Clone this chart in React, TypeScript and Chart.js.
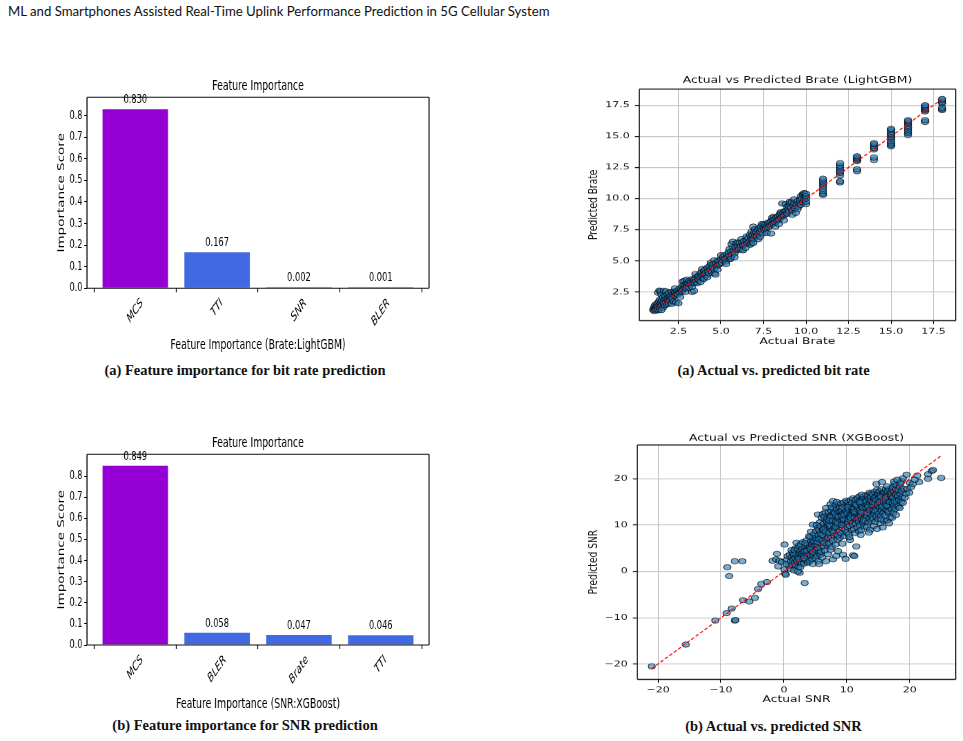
import React, { useEffect, useRef } from 'react';
import { Chart, registerables } from 'chart.js';

Chart.register(...registerables);

const SANS = '"DejaVu Sans", "Liberation Sans", sans-serif';

// ---- Feature importance: bit-rate model (LightGBM) ----
const brateFeatures = ['MCS', 'TTI', 'SNR', 'BLER'];
const brateImportance = [0.830, 0.167, 0.002, 0.001];

// ---- Feature importance: SNR model (XGBoost) ----
const snrFeatures = ['MCS', 'BLER', 'Brate', 'TTI'];
const snrImportance = [0.849, 0.058, 0.047, 0.046];

const importanceTicks = [0, 0.1, 0.2, 0.3, 0.4, 0.5, 0.6, 0.7, 0.8];
const importanceTickLabels = ['0.0', '0.1', '0.2', '0.3', '0.4', '0.5', '0.6', '0.7', '0.8'];

const brateTicks = [2.5, 5, 7.5, 10, 12.5, 15, 17.5];
const brateTickLabels = ['2.5', '5.0', '7.5', '10.0', '12.5', '15.0', '17.5'];
const snrTicks = [-20, -10, 0, 10, 20];
const snrTickLabels = ['\u221220', '\u221210', '0', '10', '20'];

// ends of the y = x reference line (min / max of the actual values)
const brateIdeal = [1, 18];
const snrIdeal = [-21, 25];

type Pt = [number, number];

// actual vs predicted bit rate (LightGBM), [actual, predicted]
const bratePoints: Pt[] = [
  [1.02, 1.05], [1.05, 1.2], [1.08, 0.98], [1.1, 1.35], [1.12, 1.1], [1.15, 1.5], [1.18, 1.25], [1.2, 1.02],
  [1.22, 1.4], [1.25, 1.15], [1.28, 1.6], [1.3, 1.3], [1.33, 1.05], [1.35, 1.75], [1.38, 1.45], [1.4, 1.2],
  [1.3, 2.45], [1.38, 2.62], [1.45, 2.55], [1.5, 2.3], [1.42, 1.9], [1.45, 1.6], [1.48, 1.35], [1.52, 1.8],
  [1.55, 1.5], [1.58, 2.05], [1.6, 1.25], [1.62, 1.65], [1.65, 2.6], [1.68, 1.9], [1.7, 1.45], [1.72, 2.2],
  [1.75, 1.7], [1.78, 2.55], [1.8, 1.95], [1.82, 1.5], [1.85, 2.3], [1.88, 1.8], [1.9, 2.05], [1.92, 1.6],
  [1.95, 2.45], [1.98, 2.1], [2.0, 1.85], [1.5, 1.05],
  [2.05, 2.2], [2.08, 1.95], [2.1, 2.5], [2.1, 1.55], [2.15, 2.05], [2.18, 2.3], [2.2, 1.75], [2.25, 2.55],
  [2.28, 2.2], [2.3, 2.45], [2.3, 2.8], [2.35, 1.65], [2.38, 2.35], [2.42, 2.6], [2.45, 2.3], [2.5, 1.6],
  [2.52, 2.5], [2.55, 2.75], [2.6, 2.45], [2.6, 2.1], [2.65, 2.7], [2.7, 2.55], [2.72, 2.95], [2.75, 3.35],
  [2.78, 2.7], [2.8, 3.1], [2.85, 2.85], [2.85, 3.4], [2.9, 3.05], [2.9, 2.5], [2.95, 2.8], [2.98, 3.25],
  [3.0, 3.5], [3.02, 3.0], [3.08, 3.2], [3.1, 2.85], [3.15, 3.4], [3.2, 3.1], [3.25, 3.3], [3.3, 2.5],
  [3.3, 2.9], [3.32, 3.55], [3.35, 3.2], [3.4, 3.45], [3.42, 2.6], [3.45, 3.25], [3.5, 3.6], [3.5, 3.95],
  [3.55, 3.35], [3.6, 3.75], [3.6, 3.2], [3.65, 3.5], [3.7, 3.8], [3.72, 3.45], [3.78, 3.95], [3.8, 3.3],
  [3.82, 3.65], [3.85, 4.1], [3.9, 3.85], [3.9, 4.35], [3.95, 3.6], [4.0, 4.2], [4.0, 3.55], [4.02, 3.9],
  [4.08, 4.3], [4.1, 4.05], [4.15, 3.85], [4.2, 4.45], [4.2, 3.7], [4.25, 4.15], [4.3, 4.0], [4.32, 4.55],
  [4.38, 4.3], [4.4, 4.85], [4.42, 4.7], [4.45, 4.15], [4.5, 4.5], [4.55, 4.75], [4.6, 4.35], [4.6, 5.05],
  [4.62, 4.0], [4.68, 3.9], [4.7, 4.8], [4.75, 4.55], [4.8, 5.0], [4.8, 4.3], [4.85, 4.7], [4.9, 4.95],
  [4.95, 4.75], [5.0, 5.15], [5.0, 5.45],
  [5.05, 4.85], [5.1, 5.3], [5.15, 5.05], [5.2, 5.45], [5.25, 5.2], [5.3, 4.95], [5.3, 4.75], [5.35, 5.5],
  [5.4, 5.3], [5.45, 5.7], [5.5, 5.4], [5.5, 5.95], [5.55, 5.15], [5.6, 5.75], [5.6, 5.25], [5.62, 6.35],
  [5.65, 5.5], [5.7, 6.1], [5.7, 6.55], [5.75, 5.85], [5.8, 5.6], [5.8, 5.3], [5.85, 6.05], [5.9, 6.4],
  [5.95, 5.85], [6.0, 6.2], [6.0, 6.5], [6.05, 5.95], [6.1, 6.45], [6.15, 6.15], [6.2, 5.9], [6.2, 6.75],
  [6.25, 6.5], [6.3, 6.25], [6.3, 5.85], [6.35, 6.6], [6.4, 6.3], [6.45, 6.05], [6.5, 6.65], [6.5, 6.95],
  [6.55, 6.4], [6.6, 6.85], [6.65, 6.5], [6.7, 7.1], [6.72, 6.3], [6.78, 6.9], [6.8, 6.7], [6.8, 7.35],
  [6.8, 6.4], [6.85, 7.05], [6.9, 6.75], [6.9, 7.75], [6.9, 6.45], [6.95, 7.3], [7.0, 7.0], [7.0, 7.55],
  [7.05, 7.3], [7.1, 6.95], [7.15, 7.5], [7.2, 7.2], [7.2, 6.75], [7.25, 7.6], [7.3, 7.35], [7.3, 6.95],
  [7.35, 7.75], [7.4, 7.45], [7.4, 7.95], [7.45, 7.2], [7.5, 7.7], [7.5, 7.95], [7.55, 7.5], [7.6, 7.9],
  [7.65, 7.6], [7.7, 7.8], [7.7, 7.25], [7.75, 8.05], [7.8, 7.7], [7.85, 8.1], [7.9, 7.85], [7.95, 8.2],
  [7.95, 7.2], [8.0, 7.95], [8.0, 8.45], [8.05, 8.25], [8.1, 8.0], [8.1, 8.55], [8.15, 8.35], [8.2, 8.1],
  [8.2, 7.75], [8.25, 8.5], [8.3, 8.25], [8.35, 8.55], [8.4, 8.3], [8.4, 7.95], [8.45, 8.7], [8.5, 8.45],
  [8.5, 8.9], [8.55, 8.8], [8.6, 8.6], [8.6, 9.6], [8.65, 8.9], [8.7, 8.65], [8.7, 8.25], [8.75, 9.0],
  [8.8, 8.75], [8.8, 9.55], [8.85, 9.05], [8.9, 8.8], [8.9, 9.35], [8.95, 9.15],
  [9.0, 8.95], [9.0, 9.4], [9.05, 9.6], [9.05, 9.75], [9.1, 9.25], [9.15, 9.7], [9.2, 9.05], [9.2, 8.7],
  [9.25, 9.45], [9.3, 9.65], [9.3, 9.95], [9.35, 9.2], [9.4, 8.85], [9.45, 9.5], [9.5, 9.8], [9.5, 9.15],
  [9.55, 9.35], [9.6, 9.6], [9.65, 9.9], [9.7, 9.5], [9.7, 10.2], [9.75, 10.0], [9.8, 9.7], [9.8, 10.35],
  [9.85, 10.3], [9.9, 9.9], [9.9, 10.45], [9.95, 10.2],
  [10.0, 9.55], [10.0, 9.75], [10.0, 10.0], [10.0, 10.2], [10.0, 10.4],
  [11, 10.3], [11, 10.4], [11, 10.6], [11, 10.8], [11, 11.0], [11, 11.15], [11, 11.3], [11, 11.45], [11, 11.6],
  [12, 11.3], [12, 11.4], [12, 11.85], [12, 12.05], [12, 12.2], [12, 12.35], [12, 12.5], [12, 12.65], [12, 12.85],
  [13, 12.2], [13, 12.35], [13, 13.0], [13, 13.1], [13, 13.2], [13, 13.3], [13, 13.4],
  [14, 13.1], [14, 13.3], [14, 13.95], [14, 14.05], [14, 14.2], [14, 14.35], [14, 14.45],
  [15, 14.2], [15, 14.3], [15, 14.45], [15, 14.6], [15, 14.8], [15, 14.95], [15, 15.1], [15, 15.2], [15, 15.35],
  [15, 15.5], [15, 15.6],
  [16, 15.1], [16, 15.25], [16, 15.4], [16, 15.55], [16, 15.7], [16, 15.85], [16, 16.0], [16, 16.1], [16, 16.2],
  [16, 16.3],
  [17, 16.15], [17, 16.3], [17, 17.0], [17, 17.1], [17, 17.2], [17, 17.3], [17, 17.4], [17, 17.5],
  [18, 17.1], [18, 17.2], [18, 17.3], [18, 17.65], [18, 17.75], [18, 17.9], [18, 18.0],
];

// actual vs predicted SNR (XGBoost), [actual, predicted]
const snrPoints: Pt[] = [
  [-21, -20.5], [-15.6, -15.8], [-10.9, -10.6], [-9.1, -9.0], [-8.3, -8.0], [-7.8, -10.6], [-7.7, -10.5],
  [-9.0, 0.9], [-8.7, -1.0], [-7.8, 2.2], [-6.6, 2.2], [-6.5, -6.2], [-5.5, -6.5], [-4.6, -5.7], [-4.1, -3.8],
  [-3.6, -2.7], [-2.7, -2.3], [-1.8, 2.3], [-1.1, 3.8], [-1.25, 2.6], [-0.9, 1.1], [-0.7, 2.3], [-0.3, 2.0],
  [0.1, 0.4], [0.2, -0.5], [0.3, -0.7], [0.1, 5.8], [0.5, 2.5], [0.8, 1.2], [0.6, 3.3], [0.9, 3.6], [0.4, 1.6],
  [1.0, 0.6],
  [1.1, 2.2], [1.2, 3.0], [1.3, 1.4], [1.4, 4.1], [1.5, 2.6], [1.6, 0.2], [1.6, 3.4], [1.7, 1.8], [1.8, 5.0],
  [1.8, 2.9], [1.9, 4.2], [1.9, 1.3], [2.0, 3.6], [2.0, 6.2], [1.5, 3.9], [1.2, 4.6], [1.7, 4.6],
  [2.1, 2.3], [2.2, 4.8], [2.3, 3.1], [2.3, 1.0], [2.4, 5.5], [2.5, -0.3], [2.5, 3.8], [2.6, 2.0], [2.6, 4.4],
  [2.7, 5.9], [2.8, 3.3], [2.8, 1.6], [2.9, 4.9], [3.0, 2.7], [3.0, 6.3], [2.2, 0.0], [2.6, 0.9], [2.4, 2.7],
  [2.9, 3.9],
  [3.1, 4.2], [3.2, 1.7], [3.3, -2.5], [3.3, 3.5], [3.4, 5.4], [3.5, 2.4], [3.5, 4.6], [3.6, 6.7], [3.7, 3.1],
  [3.8, 5.8], [3.8, 1.9], [3.9, 4.0], [4.0, 7.6], [4.0, 2.8], [3.2, 2.9], [3.6, 3.9], [3.9, 5.0], [3.4, 6.1],
  [3.3, 4.4], [3.7, 4.5],
  [4.1, 2.2], [4.1, 5.3], [4.2, 3.6], [4.3, 6.5], [4.3, 8.6], [4.4, 4.4], [4.5, 2.6], [4.5, 5.9], [4.6, 1.6],
  [4.6, 10.1], [4.6, 7.3], [4.7, 3.4], [4.8, 4.9], [4.8, 8.0], [4.9, 6.3], [5.0, 2.9], [5.0, 3.9], [4.4, 5.2],
  [4.9, 5.5], [4.2, 7.4], [4.2, 4.8], [4.6, 4.2], [4.7, 6.6], [5.0, 7.2],
  [5.1, 8.7], [5.1, 4.6], [5.2, 6.9], [5.3, 3.3], [5.3, 5.6], [5.4, 12.3], [5.4, 9.4], [5.5, 7.8], [5.5, 2.2],
  [5.6, 1.6], [5.6, 4.2], [5.7, 6.2], [5.7, 10.6], [5.8, 8.3], [5.8, 3.6], [5.9, 5.1], [5.9, 7.1], [6.0, 9.6],
  [6.0, 11.6], [5.2, 10.0], [5.6, 9.0], [5.4, 5.0], [5.9, 4.3], [5.3, 6.3], [5.6, 7.0], [5.8, 9.8],
  [6.1, 6.6], [6.1, 3.0], [6.2, 8.9], [6.2, 12.4], [6.3, 5.4], [6.3, 10.3], [6.4, 7.6], [6.5, 11.2], [6.5, 4.5],
  [6.6, 9.5], [6.7, 2.2], [6.7, 13.7], [6.7, 6.9], [6.8, 8.2], [6.8, 10.8], [6.9, 12.0], [6.9, 5.8], [7.0, 7.3],
  [7.0, 9.1], [7.0, 3.7], [6.4, 11.8], [6.6, 12.8], [6.3, 9.1], [6.9, 11.4], [6.1, 7.9], [6.4, 6.2], [6.6, 8.6],
  [7.0, 10.0],
  [7.1, 10.4], [7.1, 12.8], [7.2, 6.1], [7.2, 8.4], [7.3, 11.5], [7.4, 14.5], [7.4, 4.7], [7.4, 9.6], [7.5, 7.2],
  [7.5, 13.1], [7.6, 10.9], [7.6, 5.3], [7.7, 8.9], [7.7, 12.2], [7.8, 15.2], [7.8, 2.6], [7.8, 6.6], [7.9, 10.0],
  [7.9, 13.7], [8.0, 7.8], [8.0, 11.6], [7.3, 9.9], [7.6, 13.8], [7.9, 8.4], [7.2, 11.0], [7.5, 11.9],
  [7.8, 11.0], [7.9, 12.7],
  [8.1, 9.4], [8.1, 12.6], [8.2, 5.8], [8.2, 14.3], [8.3, 3.3], [8.3, 10.8], [8.4, 8.0], [8.4, 13.4], [8.5, 11.7],
  [8.5, 6.9], [8.6, 4.4], [8.6, 9.9], [8.7, 12.9], [8.7, 14.6], [8.8, 8.6], [8.8, 11.2], [8.9, 7.3], [8.9, 13.8],
  [9.0, 10.4], [9.0, 12.2], [8.3, 12.0], [8.6, 7.8], [8.9, 9.6], [8.4, 15.0], [8.2, 9.7], [8.5, 10.4],
  [8.7, 11.8], [9.0, 13.0],
  [9.1, 8.2], [9.1, 14.7], [9.2, 11.0], [9.2, 13.2], [9.3, 9.3], [9.3, 6.0], [9.4, 3.6], [9.4, 12.5], [9.5, 14.9],
  [9.5, 10.6], [9.6, 7.6], [9.6, 13.6], [9.7, 11.7], [9.7, 9.0], [9.8, 2.7], [9.8, 14.2], [9.8, 12.9], [9.9, 10.1],
  [10.0, 8.4], [10.0, 11.4], [10.0, 13.9], [9.4, 11.6], [9.9, 15.3], [9.2, 10.0], [9.2, 12.0], [9.5, 11.2],
  [9.6, 12.3], [9.9, 13.2], [9.3, 13.8],
  [10.1, 9.6], [10.1, 12.6], [10.2, 15.0], [10.2, 10.7], [10.3, 8.0], [10.3, 13.4], [10.4, 11.8], [10.4, 14.4],
  [10.5, 6.8], [10.5, 9.8], [10.6, 12.3], [10.6, 15.4], [10.7, 10.9], [10.7, 13.9], [10.8, 8.9], [10.8, 14.8],
  [10.9, 11.5], [10.9, 12.9], [11.0, 3.5], [11.0, 10.2], [11.0, 15.8], [10.4, 7.4], [10.8, 12.1], [10.2, 13.9],
  [10.3, 11.2], [10.6, 11.6], [10.9, 13.6], [11.0, 13.0],
  [11.1, 13.5], [11.1, 9.1], [11.2, 3.3], [11.2, 11.6], [11.3, 14.6], [11.3, 12.5], [11.4, 10.3], [11.4, 15.5],
  [11.5, 5.4], [11.5, 13.0], [11.6, 11.1], [11.6, 14.1], [11.7, 9.6], [11.7, 15.9], [11.8, 12.2], [11.8, 13.7],
  [11.9, 10.7], [11.9, 14.9], [12.0, 11.8], [12.0, 16.2], [11.3, 8.3], [11.6, 12.7], [11.9, 8.7], [11.2, 12.9],
  [11.5, 14.4], [11.8, 11.5], [12.0, 13.0],
  [12.1, 10.0], [12.1, 13.3], [12.2, 14.6], [12.2, 12.0], [12.3, 15.6], [12.3, 9.0], [12.4, 11.2], [12.4, 13.9],
  [12.5, 16.1], [12.5, 12.6], [12.6, 10.5], [12.6, 14.9], [12.7, 13.2], [12.7, 15.7], [12.8, 11.6], [12.8, 9.7],
  [12.9, 14.3], [12.9, 12.3], [13.0, 16.5], [13.0, 10.8], [12.4, 16.6], [12.2, 7.9], [12.7, 11.0], [12.3, 12.8],
  [12.6, 13.7], [12.9, 15.2], [12.1, 15.0],
  [13.1, 13.7], [13.1, 15.1], [13.2, 11.9], [13.2, 9.6], [13.3, 16.3], [13.3, 14.4], [13.4, 12.7], [13.4, 10.6],
  [13.5, 15.7], [13.5, 13.3], [13.6, 17.0], [13.6, 11.4], [13.7, 14.8], [13.7, 9.0], [13.8, 12.4], [13.8, 16.0],
  [13.9, 13.9], [13.9, 10.9], [14.0, 15.3], [14.0, 12.0], [13.5, 8.4], [13.9, 16.8], [13.2, 12.6], [13.4, 14.0],
  [13.7, 13.2], [13.8, 15.3],
  [14.1, 14.3], [14.1, 16.6], [14.2, 11.4], [14.2, 13.2], [14.3, 15.6], [14.3, 9.8], [14.4, 12.6], [14.4, 17.2],
  [14.5, 14.8], [14.5, 10.7], [14.6, 16.1], [14.6, 13.6], [14.7, 18.9], [14.7, 12.0], [14.8, 15.2], [14.8, 9.2],
  [14.9, 16.9], [14.9, 13.0], [15.0, 14.2], [15.0, 11.3], [14.4, 15.9], [14.8, 17.6], [14.2, 14.9], [14.5, 13.1],
  [14.6, 15.5], [14.9, 14.4], [15.0, 16.6],
  [15.1, 15.8], [15.1, 12.5], [15.2, 17.3], [15.2, 13.8], [15.3, 10.4], [15.3, 16.4], [15.4, 14.7], [15.4, 11.9],
  [15.5, 17.8], [15.5, 13.2], [15.6, 19.3], [15.6, 15.3], [15.7, 9.5], [15.7, 16.8], [15.8, 12.6], [15.8, 14.1],
  [15.9, 17.1], [15.9, 10.9], [16.0, 15.6], [16.0, 13.5], [15.5, 11.2], [15.9, 16.2], [15.2, 15.0], [15.4, 16.1],
  [15.6, 14.0], [15.9, 15.1],
  [16.1, 16.9], [16.1, 12.1], [16.2, 14.6], [16.2, 17.6], [16.3, 13.3], [16.3, 15.9], [16.4, 11.0], [16.4, 16.5],
  [16.5, 14.0], [16.5, 17.2], [16.6, 12.7], [16.6, 15.2], [16.7, 10.4], [16.7, 17.8], [16.8, 13.8], [16.8, 16.2],
  [16.9, 14.9], [16.9, 11.7], [17.0, 17.0], [17.0, 15.7], [16.4, 18.4], [16.6, 13.0], [16.1, 15.5], [16.3, 14.2],
  [16.5, 16.3], [16.8, 15.0], [16.2, 16.0], [17.0, 16.3],
  [17.1, 13.4], [17.1, 16.4], [17.2, 17.6], [17.2, 11.6], [17.3, 14.8], [17.3, 18.2], [17.4, 15.9], [17.4, 12.7],
  [17.5, 17.2], [17.5, 14.2], [17.6, 16.6], [17.6, 18.9], [17.7, 13.5], [17.7, 15.4], [17.8, 17.7], [17.8, 12.2],
  [17.9, 16.1], [17.9, 14.6], [18.0, 17.0], [18.0, 15.2], [17.5, 19.4], [17.9, 18.6], [17.3, 16.0], [17.6, 15.1],
  [17.8, 16.6],
  [18.1, 16.3], [18.2, 14.0], [18.2, 17.6], [18.3, 15.4], [18.4, 13.7], [18.4, 18.3], [18.5, 16.7], [18.6, 15.0],
  [18.7, 19.5], [18.7, 17.4], [18.8, 16.0], [18.9, 20.1], [18.9, 14.8], [19.0, 17.9], [18.5, 19.0], [18.0, 19.8],
  [19.2, 15.9], [19.4, 16.8], [19.5, 20.9], [19.6, 17.8], [19.9, 17.0], [20.0, 19.1], [20.2, 18.2], [20.5, 18.9],
  [21.2, 20.7], [21.5, 19.3], [22.9, 20.0], [22.9, 21.0], [23.5, 21.7], [23.7, 21.9], [25.0, 20.2], [20.8, 19.8],
];

// Each panel is drawn at its own scale and then squeezed with a CSS transform,
// so every geometry value below is in the canvas' own (unsqueezed) pixels.
type Geom = {
  left: number; top: number; w: number; h: number; sx: number; sy: number;
  areaLeft: number; areaRight: number; areaTop: number; areaBottom: number;
  titleY: number; xTitleY: number; yTitleX: number;
};

const framePlugin = {
  id: 'frame',
  afterDatasetsDraw(chart: any, _args: any, opts: any) {
    const { ctx, chartArea: a } = chart;
    ctx.save();
    ctx.strokeStyle = '#111';
    ctx.lineWidth = opts.lwH || 1;
    ctx.beginPath();
    ctx.moveTo(a.left, a.top); ctx.lineTo(a.right, a.top);
    ctx.moveTo(a.left, a.bottom); ctx.lineTo(a.right, a.bottom);
    ctx.stroke();
    ctx.lineWidth = opts.lwV || 1;
    ctx.beginPath();
    ctx.moveTo(a.left, a.top); ctx.lineTo(a.left, a.bottom);
    ctx.moveTo(a.right, a.top); ctx.lineTo(a.right, a.bottom);
    ctx.stroke();
    ctx.restore();
  },
};

const barValuePlugin = {
  id: 'barValues',
  afterDatasetsDraw(chart: any, _args: any, opts: any) {
    const { ctx } = chart;
    const meta = chart.getDatasetMeta(0);
    const data = chart.data.datasets[0].data;
    ctx.save();
    ctx.font = `${opts.size}px ${SANS}`;
    ctx.fillStyle = '#000';
    ctx.textAlign = 'center';
    ctx.textBaseline = 'bottom';
    meta.data.forEach((bar: any, i: number) => {
      ctx.fillText(data[i].y.toFixed(3), bar.x, bar.y - 3);
    });
    ctx.restore();
  },
};

const slantedLabelsPlugin = {
  id: 'slantedLabels',
  afterDraw(chart: any, _args: any, opts: any) {
    const { ctx } = chart;
    const scale = chart.scales.x;
    ctx.save();
    ctx.font = `italic ${opts.size}px ${SANS}`;
    ctx.fillStyle = '#000';
    ctx.textAlign = 'center';
    ctx.textBaseline = 'middle';
    opts.labels.forEach((label: string, i: number) => {
      const x = scale.getPixelForValue(i);
      const w = ctx.measureText(label).width;
      const h = opts.size * 1.1;
      const half = ((w + h) * Math.SQRT1_2) / 2;
      ctx.save();
      ctx.translate(x, scale.top + opts.offset + half);
      ctx.rotate(-Math.PI / 4);
      ctx.fillText(label, 0, 0);
      ctx.restore();
    });
    ctx.restore();
  },
};

function canvasStyle(g: Geom): React.CSSProperties {
  return {
    position: 'absolute',
    left: g.left,
    top: g.top,
    width: g.w,
    height: g.h,
    transform: `scale(${g.sx}, ${g.sy})`,
    transformOrigin: '0 0',
  };
}

function BarPanel({ g, features, values, yMax, xTitle }: {
  g: Geom; features: string[]; values: number[]; yMax: number; xTitle: string;
}) {
  const ref = useRef<HTMLCanvasElement | null>(null);
  useEffect(() => {
    if (!ref.current) return;
    const titleSize = 13.5;
    const lh = titleSize * 1.2;
    const tickSize = 11.8;
    const colors = features.map((_, i) => (i === 0 ? '#9400d3' : '#4169e1'));
    const chart = new Chart(ref.current, {
      type: 'bar',
      data: {
        datasets: [{
          data: values.map((v, i) => ({ x: i, y: v })),
          backgroundColor: colors,
          borderWidth: 0,
          categoryPercentage: 1,
          barPercentage: 0.8,
          minBarLength: 1,
        }],
      } as any,
      options: {
        animation: false,
        responsive: false,
        devicePixelRatio: 1,
        events: [],
        layout: { padding: { left: 0, top: 0, bottom: 0, right: g.w - g.areaRight } },
        plugins: {
          legend: { display: false },
          tooltip: { enabled: false },
          title: {
            display: true,
            text: 'Feature Importance',
            color: '#000',
            fullSize: false,
            font: { family: SANS, size: titleSize, weight: 'normal' },
            padding: { top: g.titleY - lh / 2, bottom: g.areaTop - g.titleY - lh / 2 },
          },
          frame: { lwV: 1.1 / g.sx, lwH: 1.1 / g.sy },
          barValues: { size: 12 },
          slantedLabels: { labels: features, size: 12.5, offset: 8 },
        } as any,
        scales: {
          x: {
            type: 'linear',
            min: -0.59,
            max: features.length - 1 + 0.59,
            offset: false,
            afterBuildTicks: (s: any) => { s.ticks = features.map((_, i) => ({ value: i })); },
            afterFit: (s: any) => { s.height = g.h - g.areaBottom; },
            ticks: { display: false },
            grid: { drawOnChartArea: false, drawTicks: true, tickLength: 4, tickColor: '#000', tickWidth: 1.3 },
            border: { display: false },
            title: {
              display: true,
              text: xTitle,
              color: '#000',
              font: { family: SANS, size: titleSize },
              padding: { top: 0, bottom: g.h - g.xTitleY - lh / 2 },
            },
          },
          y: {
            type: 'linear',
            min: 0,
            max: yMax,
            afterBuildTicks: (s: any) => { s.ticks = importanceTicks.map((v) => ({ value: v })); },
            afterFit: (s: any) => { s.width = g.areaLeft; },
            ticks: {
              autoSkip: false,
              padding: 2.5,
              color: '#000',
              font: { family: SANS, size: tickSize },
              callback: (_v: any, i: number) => importanceTickLabels[i],
            },
            grid: { drawOnChartArea: false, drawTicks: true, tickLength: 4, tickColor: '#000', tickWidth: 1 },
            border: { display: false },
            title: {
              display: true,
              text: 'Importance Score',
              color: '#000',
              font: { family: SANS, size: titleSize },
              padding: { top: g.yTitleX - lh / 2, bottom: 0 },
            },
          },
        } as any,
      },
      plugins: [framePlugin, barValuePlugin, slantedLabelsPlugin] as any,
    });
    return () => chart.destroy();
  }, []);
  return <canvas ref={ref} width={g.w} height={g.h} style={canvasStyle(g)} />;
}

function ScatterPanel({ g, points, ideal, range, ticks, tickLabels, title, xTitle, yTitle }: {
  g: Geom; points: Pt[]; ideal: number[]; range: number[]; ticks: number[]; tickLabels: string[];
  title: string; xTitle: string; yTitle: string;
}) {
  const ref = useRef<HTMLCanvasElement | null>(null);
  useEffect(() => {
    if (!ref.current) return;
    const titleSize = 12.4;
    const labelSize = 12.3;
    const tickSize = 11;
    const tlh = titleSize * 1.2;
    const llh = labelSize * 1.2;
    const gridColor = '#c6c6c6';
    const axis = (which: 'x' | 'y') => ({
      type: 'linear',
      min: range[0],
      max: range[1],
      afterBuildTicks: (s: any) => { s.ticks = ticks.map((v) => ({ value: v })); },
      afterFit: (s: any) => {
        if (which === 'x') s.height = g.h - g.areaBottom;
        else s.width = g.areaLeft;
      },
      ticks: {
        autoSkip: false,
        maxRotation: 0,
        padding: which === 'x' ? 3.5 : 5,
        color: '#111',
        font: { family: SANS, size: tickSize },
        callback: (_v: any, i: number) => tickLabels[i],
      },
      grid: {
        color: gridColor,
        lineWidth: which === 'x' ? 1 : 1.2,
        drawTicks: true,
        tickLength: 4.5,
        tickColor: '#111',
        tickWidth: which === 'x' ? 1 : 1.3,
      },
      border: { display: false },
      title: {
        display: true,
        text: which === 'x' ? xTitle : yTitle,
        color: '#111',
        font: { family: SANS, size: labelSize },
        padding: which === 'x'
          ? { top: 0, bottom: g.h - g.xTitleY - llh / 2 }
          : { top: g.yTitleX - llh / 2, bottom: 0 },
      },
    });
    const chart = new Chart(ref.current, {
      type: 'scatter',
      data: {
        datasets: [
          {
            type: 'line',
            data: [{ x: ideal[0], y: ideal[0] }, { x: ideal[1], y: ideal[1] }],
            borderColor: '#ff0000',
            borderWidth: 1.3,
            borderDash: [4, 2.2],
            pointRadius: 0,
            showLine: true,
            fill: false,
            order: 0,
          },
          {
            type: 'scatter',
            data: points.map(([x, y]) => ({ x, y })),
            backgroundColor: 'rgba(31,119,180,0.6)',
            borderColor: 'rgba(0,0,0,0.78)',
            borderWidth: 0.9,
            pointRadius: 3.7,
            order: 1,
          },
        ],
      } as any,
      options: {
        animation: false,
        responsive: false,
        devicePixelRatio: 1,
        events: [],
        layout: { padding: { left: 0, top: 0, bottom: 0, right: g.w - g.areaRight } },
        plugins: {
          legend: { display: false },
          tooltip: { enabled: false },
          title: {
            display: true,
            text: title,
            color: '#111',
            fullSize: false,
            font: { family: SANS, size: titleSize, weight: 'normal' },
            padding: { top: g.titleY - tlh / 2, bottom: g.areaTop - g.titleY - tlh / 2 },
          },
          frame: { lwV: 1.1 / g.sx, lwH: 1.1 / g.sy },
        } as any,
        scales: { x: axis('x'), y: axis('y') } as any,
      },
      plugins: [framePlugin] as any,
    });
    return () => chart.destroy();
  }, []);
  return <canvas ref={ref} width={g.w} height={g.h} style={canvasStyle(g)} />;
}

const barTop: Geom = {
  left: 40, top: 70, w: 580, h: 285, sx: 0.69, sy: 1,
  areaLeft: 68.1, areaRight: 563.8, areaTop: 27.3, areaBottom: 218.3,
  titleY: 16.7, xTitleY: 275, yTitleX: 31.4,
};
const barBottom: Geom = {
  left: 40, top: 425, w: 580, h: 289, sx: 0.69, sy: 1,
  areaLeft: 68.1, areaRight: 563.8, areaTop: 29.3, areaBottom: 220,
  titleY: 18.3, xTitleY: 279, yTitleX: 31.4,
};
const scatterTop: Geom = {
  left: 580, top: 65, w: 383, h: 385, sx: 1, sy: 0.74,
  areaLeft: 59.3, areaRight: 375.7, areaTop: 32.4, areaBottom: 345.5,
  titleY: 21.2, xTitleY: 373.9, yTitleX: 14,
};
const scatterBottom: Geom = {
  left: 580, top: 420, w: 383, h: 389, sx: 1, sy: 0.74,
  areaLeft: 57.3, areaRight: 375.7, areaTop: 33.8, areaBottom: 350.4,
  titleY: 24.8, xTitleY: 378, yTitleX: 14,
};

const captionStyle = (cx: number, cy: number): React.CSSProperties => ({
  position: 'absolute',
  left: cx - 200,
  top: cy - 9,
  width: 400,
  lineHeight: '18px',
  textAlign: 'center',
  fontFamily: '"Liberation Serif", serif',
  fontWeight: 'bold',
  fontSize: 14.5,
  color: '#111',
  whiteSpace: 'nowrap',
});

export default function App() {
  return (
    <div
      style={{
        position: 'absolute', left: 0, top: 0, width: 963, height: 741,
        overflow: 'hidden', background: '#fff',
      }}
    >
      <div
        style={{
          position: 'absolute', left: 8, top: 3, lineHeight: '17px',
          fontFamily: 'Lato, "Open Sans", sans-serif', fontSize: 13.2, color: '#111', whiteSpace: 'nowrap',
        }}
      >
        ML and Smartphones Assisted Real-Time Uplink Performance Prediction in 5G Cellular System
      </div>

      <BarPanel g={barTop} features={brateFeatures} values={brateImportance} yMax={0.885}
        xTitle="Feature Importance (Brate:LightGBM)" />
      <BarPanel g={barBottom} features={snrFeatures} values={snrImportance} yMax={0.903}
        xTitle="Feature Importance (SNR:XGBoost)" />

      <ScatterPanel g={scatterTop} points={bratePoints} ideal={brateIdeal} range={[0.2, 18.8]}
        ticks={brateTicks} tickLabels={brateTickLabels}
        title="Actual vs Predicted Brate (LightGBM)" xTitle="Actual Brate" yTitle="Predicted Brate" />
      <ScatterPanel g={scatterBottom} points={snrPoints} ideal={snrIdeal} range={[-23.3, 27.3]}
        ticks={snrTicks} tickLabels={snrTickLabels}
        title="Actual vs Predicted SNR (XGBoost)" xTitle="Actual SNR" yTitle="Predicted SNR" />

      <div style={captionStyle(245, 370)}>(a) Feature importance for bit rate prediction</div>
      <div style={captionStyle(773.5, 370)}>(a) Actual vs. predicted bit rate</div>
      <div style={captionStyle(245, 725)}>(b) Feature importance for SNR prediction</div>
      <div style={captionStyle(773.5, 726)}>(b) Actual vs. predicted SNR</div>
    </div>
  );
}
